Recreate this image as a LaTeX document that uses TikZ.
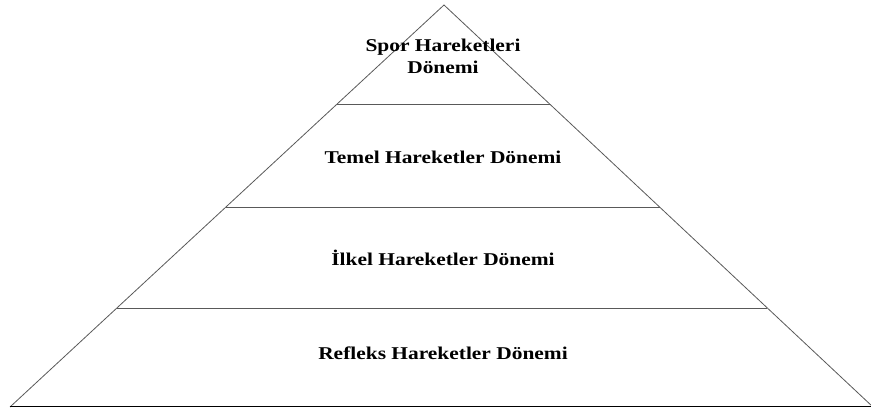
\documentclass[tikz,border=0pt]{standalone}
\usepackage{fontspec}
\setmainfont{Liberation Serif}
\usetikzlibrary{calc}
\begin{document}
\begin{tikzpicture}[x=1pt,y=1pt,
  side/.style={draw=black!65, line width=0.8pt},
  baseline/.style={draw=black, line width=1pt},
  level/.style={font=\bfseries\fontsize{18}{22}\selectfont, align=center, inner sep=0pt, xscale=1.19}]
  \useasboundingbox (0,0) rectangle (871,410);
  % corners of the pyramid
  \coordinate (apex) at (444,405);
  \coordinate (bl) at (10,3);
  \coordinate (br) at (873,3);
  % pyramid outline
  \draw[side] (bl) -- (apex) -- (br);
  \draw[baseline] (bl) -- (br);
  % tier separators
  \foreach \t/\n in {0.2463/a,0.5025/b,0.7537/c}{
    \coordinate (l\n) at ($(apex)!\t!(bl)$);
    \coordinate (r\n) at ($(apex)!\t!(br)$);
    \draw[side] (l\n) -- (r\n);
  }
  % tier labels
  \node[level] (t1) at (443,354) {Spor Hareketleri\\Dönemi};
  \node[level] (t2) at (443,253) {Temel Hareketler Dönemi};
  \node[level] (t3) at (443,152) {İlkel Hareketler Dönemi};
  \node[level] (t4) at (443,57) {Refleks Hareketler Dönemi};
\end{tikzpicture}
\end{document}
